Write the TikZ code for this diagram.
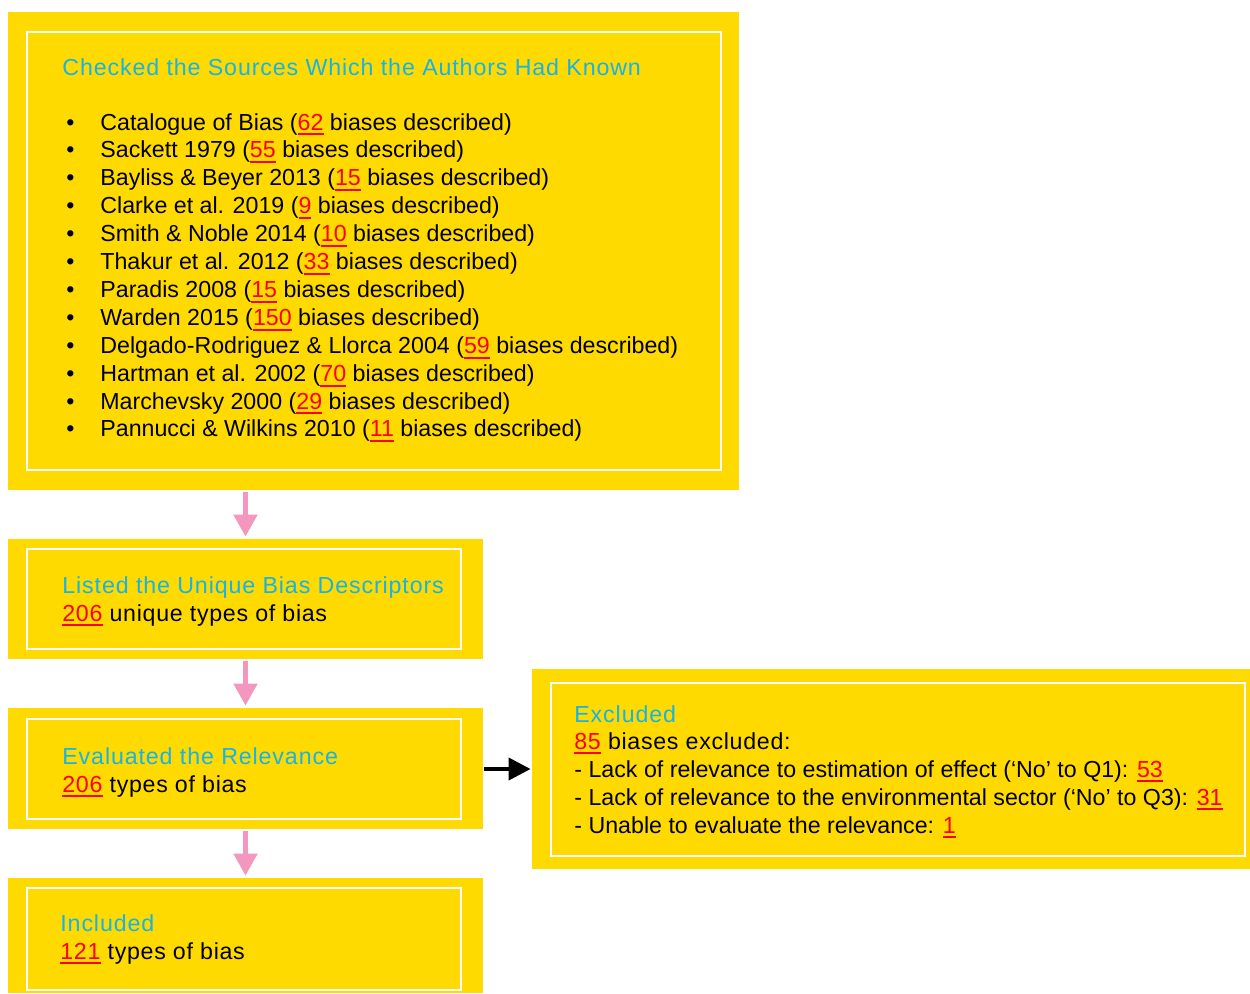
\documentclass[tikz,border=0pt]{standalone}
\usepackage{fontspec}
\setmainfont{Liberation Sans}
\usetikzlibrary{arrows.meta}
\definecolor{boxyellow}{RGB}{255,218,0}
\definecolor{titlecyan}{RGB}{20,180,232}
\definecolor{arrowpink}{RGB}{243,151,190}
\newcommand\rn[1]{{\color{red}\setbox0\hbox{#1}\rlap{\rule[-2.7pt]{\wd0}{1pt}}\box0}}
\newcommand\bul{\makebox[19pt][l]{\hspace{2pt}\textbullet}}
\begin{document}
\begin{tikzpicture}[x=0.5pt,y=-0.5pt,
  outer/.style={fill=boxyellow, draw=none, inner sep=0pt},
  frame/.style={draw=white, line width=0.8pt},
  txt/.style={anchor=base west, inner sep=0pt, font=\fontsize{11.6}{14}\selectfont},
  sp/.style={txt, font=\fontsize{11.6}{14}\selectfont\addfontfeatures{LetterSpace=3}},
  ttl/.style={txt, text=titlecyan, font=\fontsize{11.6}{14}\selectfont\addfontfeatures{LetterSpace=3.8}},
  flow/.style={draw=arrowpink, line width=2.5pt, -{Triangle[width=11.5pt,length=11pt]}, shorten <=1pt, shorten >=1pt},
  side/.style={draw=black, line width=2pt, -{Triangle[width=11pt,length=11pt]}, shorten <=0.5pt, shorten >=0.5pt}]
\useasboundingbox (0,0) rectangle (1250,993);
% boxes
\node[outer, minimum width=365.5pt, minimum height=239pt] (b1) at (373.5,251) {};
\node[outer, minimum width=237.5pt, minimum height=60pt] (b2) at (245.5,599) {};
\node[outer, minimum width=237.5pt, minimum height=60.5pt] (b3) at (245.5,768.5) {};
\node[outer, minimum width=237.5pt, minimum height=57.5pt] (b4) at (245.5,935.5) {};
\node[outer, minimum width=359pt, minimum height=100pt] (b5) at (891,769) {};
% inner frames
\draw[frame] (27,32) rectangle (721,470);
\draw[frame] (27,549) rectangle (461,649);
\draw[frame] (27,719) rectangle (461,819);
\draw[frame] (27,888) rectangle (461,990);
\draw[frame] (551,683) rectangle (1245,856);
% box 1 text
\node[ttl] (t1) at (62,75) {Checked the Sources Which the Authors Had Known};
\foreach \i/\t [count=\k from 0] in {
  1/{Catalogue of Bias (\rn{62} biases described)},
  2/{Sackett 1979 (\rn{55} biases described)},
  3/{Bayliss \& Beyer 2013 (\rn{15} biases described)},
  4/{Clarke et al. 2019 (\rn{9} biases described)},
  5/{Smith \& Noble 2014 (\rn{10} biases described)},
  6/{Thakur et al. 2012 (\rn{33} biases described)},
  7/{Paradis 2008 (\rn{15} biases described)},
  8/{Warden 2015 (\rn{150} biases described)},
  9/{Delgado-Rodriguez \& Llorca 2004 (\rn{59} biases described)},
  10/{Hartman et al. 2002 (\rn{70} biases described)},
  11/{Marchevsky 2000 (\rn{29} biases described)},
  12/{Pannucci \& Wilkins 2010 (\rn{11} biases described)}}
  \node[txt] (s\i) at (62,130+27.9*\k) {\bul\t};
% box 2
\node[ttl] (t2) at (62,593) {Listed the Unique Bias Descriptors};
\node[sp] (u2) at (62,621) {\rn{206} unique types of bias};
% box 3
\node[ttl] (t3) at (62,764) {Evaluated the Relevance};
\node[sp] (u3) at (62,792) {\rn{206} types of bias};
% box 4
\node[ttl] (t4) at (60,931) {Included};
\node[sp] (u4) at (60,959) {\rn{121} types of bias};
% box 5
\node[ttl] (t5) at (574,722) {Excluded};
\node[sp] (e1) at (574,749) {\rn{85} biases excluded:};
\node[txt] (e2) at (574,777) {- Lack of relevance to estimation of effect (‘No’ to Q1): \rn{53}};
\node[txt] (e3) at (574,805) {- Lack of relevance to the environmental sector (‘No’ to Q3): \rn{31}};
\node[txt] (e4) at (574,833) {- Unable to evaluate the relevance: \rn{1}};
% arrows
\draw[flow] (b1.south -| b2.north) -- (b2.north);
\draw[flow] (b2.south) -- (b3.north);
\draw[flow] (b3.south) -- (b4.north);
\draw[side] (b3.east |- b5.west) -- (b5.west);
\end{tikzpicture}
\end{document}
